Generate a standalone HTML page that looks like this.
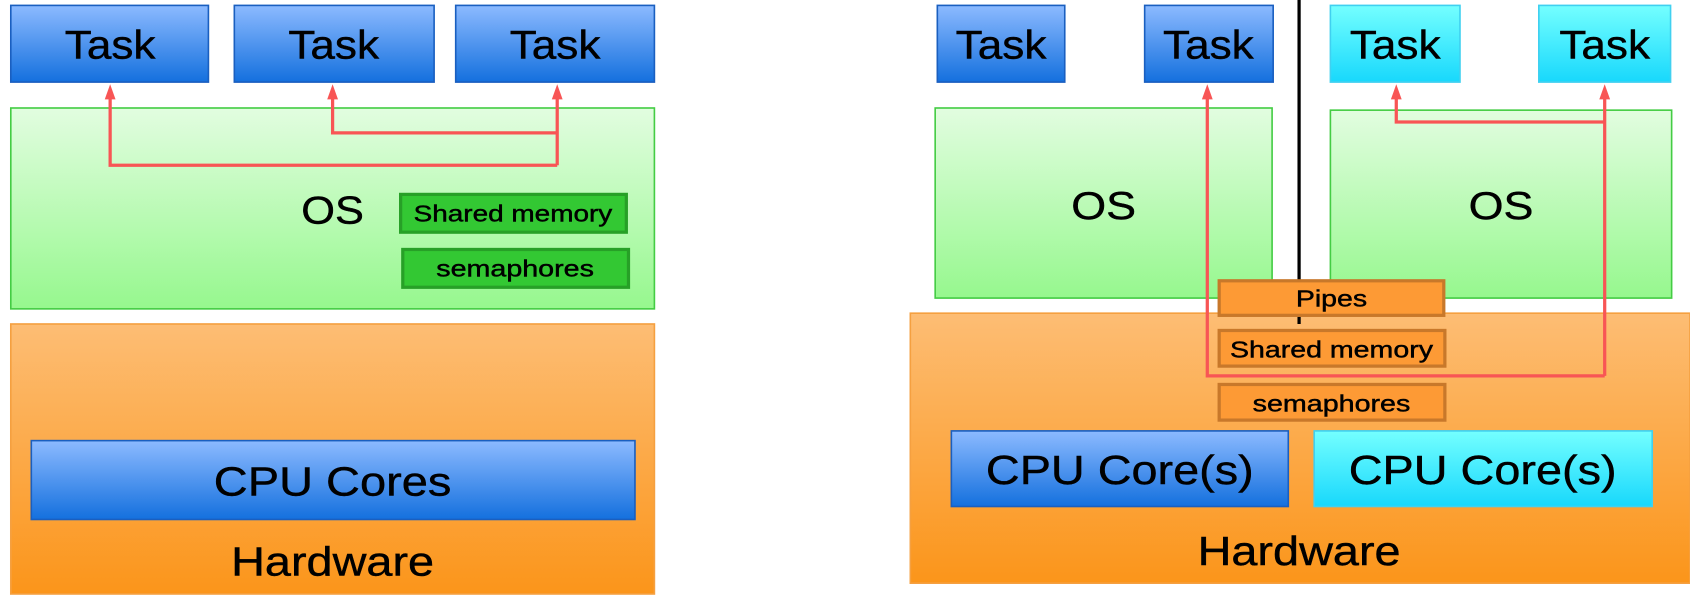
<!DOCTYPE html>
<html><head><meta charset="utf-8"><style>
html,body{margin:0;padding:0;background:#fff;width:1690px;height:601px;overflow:hidden}
text{font-family:"Liberation Sans",sans-serif;fill:#000}
</style></head><body>
<svg width="1690" height="601" viewBox="0 0 1565 556.5" preserveAspectRatio="none" xmlns="http://www.w3.org/2000/svg">
<defs>
<linearGradient id="bl" x1="0" y1="0" x2="0" y2="1"><stop offset="0" stop-color="#8cbaff"/><stop offset="1" stop-color="#1470de"/></linearGradient>
<linearGradient id="cy" x1="0" y1="0" x2="0" y2="1"><stop offset="0" stop-color="#74ffff"/><stop offset="1" stop-color="#18d8fc"/></linearGradient>
<linearGradient id="gr" x1="0" y1="0" x2="0" y2="1"><stop offset="0" stop-color="#e2fde0"/><stop offset="1" stop-color="#96f88e"/></linearGradient>
<linearGradient id="or" x1="0" y1="0" x2="0" y2="1"><stop offset="0" stop-color="#fdbd74"/><stop offset="1" stop-color="#fb951a"/></linearGradient>
<marker id="ar" markerWidth="10" markerHeight="14" refX="5" refY="2" orient="auto-start-reverse" markerUnits="userSpaceOnUse" viewBox="0 0 10 14"><path d="M0,14 L5,0 L10,14 Z" fill="#f85555"/></marker>
</defs>
<g stroke-width="1.5">
<rect x="10" y="5" width="183" height="71" fill="url(#bl)" stroke="#1a5fc0"/>
<rect x="217" y="5" width="185" height="71" fill="url(#bl)" stroke="#1a5fc0"/>
<rect x="422" y="5" width="184" height="71" fill="url(#bl)" stroke="#1a5fc0"/>
<rect x="10" y="100" width="596" height="186" fill="url(#gr)" stroke="#44cc44"/>
<rect x="371" y="180" width="209" height="35" fill="#33c833" stroke="#27a027" stroke-width="3"/>
<rect x="373" y="231" width="209" height="35" fill="#33c833" stroke="#27a027" stroke-width="3"/>
<rect x="10" y="300" width="596" height="250" fill="url(#or)" stroke="#f5a040"/>
<rect x="29" y="408" width="559" height="73" fill="url(#bl)" stroke="#1a5fc0"/>
<line x1="1203" y1="0" x2="1203" y2="300" stroke="#000" stroke-width="3"/>
<rect x="868" y="5" width="118" height="71" fill="url(#bl)" stroke="#1a5fc0"/>
<rect x="1060" y="5" width="119" height="71" fill="url(#bl)" stroke="#1a5fc0"/>
<rect x="1232" y="5" width="120" height="71" fill="url(#cy)" stroke="#40d0f0"/>
<rect x="1425" y="5" width="122" height="71" fill="url(#cy)" stroke="#40d0f0"/>
<rect x="866" y="100" width="312" height="176" fill="url(#gr)" stroke="#44cc44"/>
<rect x="1232" y="102" width="316" height="174" fill="url(#gr)" stroke="#44cc44"/>
<rect x="843" y="290" width="722" height="250" fill="url(#or)" stroke="#f5a040"/>
<line x1="1203" y1="290" x2="1203" y2="300" stroke="#000" stroke-width="3"/>
<rect x="1129" y="260" width="208" height="32" fill="#fd9a35" stroke="#c8782a" stroke-width="3"/>
<rect x="1129" y="306" width="209" height="33" fill="#fd9a35" stroke="#c8782a" stroke-width="3"/>
<rect x="1129" y="356" width="209" height="33" fill="#fd9a35" stroke="#c8782a" stroke-width="3"/>
<rect x="881" y="399" width="312" height="70" fill="url(#bl)" stroke="#1a5fc0"/>
<rect x="1217" y="399" width="313" height="70" fill="url(#cy)" stroke="#40d0f0"/>
</g>
<g fill="none" stroke="#f85555" stroke-width="3">
<polyline points="516,123 308,123 308,90"/>
<polyline points="516,153 102,153 102,90"/>
<line x1="516" y1="153" x2="516" y2="90"/>
<polyline points="1486,113 1293,113 1293,90"/>
<polyline points="1486,348 1118,348 1118,90"/>
<line x1="1486" y1="348" x2="1486" y2="90"/>
</g>
<g fill="#f85555">
<path d="M97,92 L102,78 L107,92 Z"/>
<path d="M303,92 L308,78 L313,92 Z"/>
<path d="M511,92 L516,78 L521,92 Z"/>
<path d="M1113,92 L1118,78 L1123,92 Z"/>
<path d="M1288,92 L1293,78 L1298,92 Z"/>
<path d="M1481,92 L1486,78 L1491,92 Z"/>
</g>
<g text-anchor="middle" stroke="#000" stroke-width="0.4">
<text x="102" y="54" font-size="37" textLength="84" lengthAdjust="spacingAndGlyphs">Task</text>
<text x="309" y="54" font-size="37" textLength="84" lengthAdjust="spacingAndGlyphs">Task</text>
<text x="514" y="54" font-size="37" textLength="84" lengthAdjust="spacingAndGlyphs">Task</text>
<text x="308" y="207" font-size="36" textLength="58" lengthAdjust="spacingAndGlyphs">OS</text>
<text x="475" y="205" font-size="21" textLength="184" lengthAdjust="spacingAndGlyphs">Shared memory</text>
<text x="477" y="256" font-size="21" textLength="146" lengthAdjust="spacingAndGlyphs">semaphores</text>
<text x="308" y="459" font-size="38" textLength="220" lengthAdjust="spacingAndGlyphs">CPU Cores</text>
<text x="308" y="533" font-size="38" textLength="188" lengthAdjust="spacingAndGlyphs">Hardware</text>
<text x="927" y="54" font-size="37" textLength="84" lengthAdjust="spacingAndGlyphs">Task</text>
<text x="1119" y="54" font-size="37" textLength="84" lengthAdjust="spacingAndGlyphs">Task</text>
<text x="1292" y="54" font-size="37" textLength="84" lengthAdjust="spacingAndGlyphs">Task</text>
<text x="1486" y="54" font-size="37" textLength="84" lengthAdjust="spacingAndGlyphs">Task</text>
<text x="1022" y="203" font-size="36" textLength="60" lengthAdjust="spacingAndGlyphs">OS</text>
<text x="1390" y="203" font-size="36" textLength="60" lengthAdjust="spacingAndGlyphs">OS</text>
<text x="1233" y="284" font-size="21" textLength="66" lengthAdjust="spacingAndGlyphs">Pipes</text>
<text x="1233" y="331" font-size="21" textLength="188" lengthAdjust="spacingAndGlyphs">Shared memory</text>
<text x="1233" y="381" font-size="21" textLength="146" lengthAdjust="spacingAndGlyphs">semaphores</text>
<text x="1037" y="448" font-size="38" textLength="248" lengthAdjust="spacingAndGlyphs">CPU Core(s)</text>
<text x="1373" y="448" font-size="38" textLength="248" lengthAdjust="spacingAndGlyphs">CPU Core(s)</text>
<text x="1203" y="523" font-size="38" textLength="188" lengthAdjust="spacingAndGlyphs">Hardware</text>
</g>
</svg>
</body></html>
